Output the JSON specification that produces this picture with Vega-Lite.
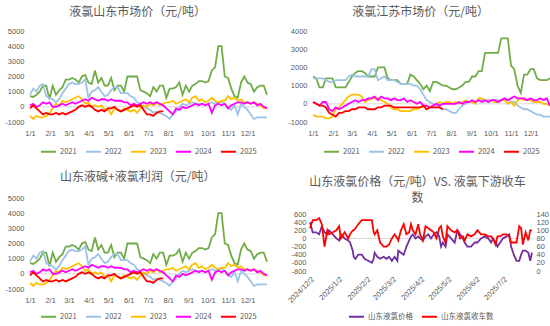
{
  "$schema": "https://vega.github.io/schema/vega-lite/v6.json",
  "background": "white",
  "padding": {"left": 4, "top": 6, "right": 3, "bottom": 2},
  "config": {
    "font": "Noto Sans CJK SC",
    "view": {"stroke": null},
    "title": {"fontSize": 12, "fontWeight": "normal", "color": "#595959", "anchor": "middle", "frame": "bounds", "offset": 8},
    "axis": {"labelFont": "Liberation Sans", "labelFontSize": 7.5, "labelColor": "#595959", "domain": false, "ticks": false, "grid": false, "title": null},
    "legend": {"labelFont": "Noto Sans CJK SC", "labelFontSize": 7.5, "labelColor": "#595959", "symbolType": "stroke", "symbolStrokeWidth": 2, "symbolSize": 225, "orient": "bottom", "direction": "horizontal", "title": null, "columnPadding": 5, "labelOffset": 3, "offset": 6,
               "layout": {"bottom": {"anchor": "middle"}}}
  },
  "resolve": {"scale": {"color": "independent"}, "legend": {"color": "independent"}},
  "datasets": {
    "sd": [
      {"d":"2000-01-01","2021":700,"2022":800,"2023":-600,"2024":100,"2025":-100},
      {"d":"2000-01-06","2021":650,"2022":1200,"2023":-800,"2024":200,"2025":100},
      {"d":"2000-01-11","2021":800,"2022":1000,"2023":-600,"2024":0,"2025":-100},
      {"d":"2000-01-16","2021":1000,"2022":1400,"2023":-700,"2024":100,"2025":-300},
      {"d":"2000-01-21","2021":1400,"2022":1500,"2023":-700,"2024":300,"2025":-500},
      {"d":"2000-01-26","2021":1400,"2022":700,"2023":-600,"2024":200,"2025":-400},
      {"d":"2000-01-31","2021":500,"2022":600,"2023":-400,"2024":300,"2025":-500},
      {"d":"2000-02-05","2021":1400,"2022":500,"2023":-100,"2024":0,"2025":-500},
      {"d":"2000-02-10","2021":800,"2022":300,"2023":200,"2024":0,"2025":-400},
      {"d":"2000-02-15","2021":1100,"2022":500,"2023":100,"2024":100,"2025":-500},
      {"d":"2000-02-20","2021":1300,"2022":900,"2023":400,"2024":200,"2025":-400},
      {"d":"2000-02-25","2021":1800,"2022":1200,"2023":300,"2024":100,"2025":-500},
      {"d":"2000-03-01","2021":1800,"2022":1500,"2023":400,"2024":200,"2025":-400},
      {"d":"2000-03-06","2021":1900,"2022":1600,"2023":500,"2024":300,"2025":-300},
      {"d":"2000-03-11","2021":1800,"2022":1500,"2023":600,"2024":200,"2025":-200},
      {"d":"2000-03-16","2021":1600,"2022":1500,"2023":700,"2024":300,"2025":0},
      {"d":"2000-03-21","2021":2000,"2022":1600,"2023":500,"2024":400,"2025":100},
      {"d":"2000-03-26","2021":2100,"2022":1800,"2023":200,"2024":500,"2025":0},
      {"d":"2000-03-31","2021":1600,"2022":600,"2023":300,"2024":400,"2025":100},
      {"d":"2000-04-05","2021":1500,"2022":1000,"2023":0,"2024":600,"2025":0},
      {"d":"2000-04-10","2021":2400,"2022":1100,"2023":100,"2024":500,"2025":-200},
      {"d":"2000-04-15","2021":1600,"2022":1300,"2023":0,"2024":400,"2025":-300},
      {"d":"2000-04-20","2021":1900,"2022":1000,"2023":100,"2024":500,"2025":-200},
      {"d":"2000-04-25","2021":1400,"2022":700,"2023":-200,"2024":500,"2025":-300},
      {"d":"2000-04-30","2021":1400,"2022":800,"2023":-100,"2024":400,"2025":-100},
      {"d":"2000-05-05","2021":1900,"2022":1100,"2023":-500,"2024":500,"2025":-100},
      {"d":"2000-05-10","2021":1100,"2022":1300,"2023":-100,"2024":400,"2025":0},
      {"d":"2000-05-15","2021":1400,"2022":1300,"2023":-200,"2024":400,"2025":-200},
      {"d":"2000-05-20","2021":1400,"2022":900,"2023":-300,"2024":400,"2025":-300},
      {"d":"2000-05-25","2021":1000,"2022":900,"2023":-100,"2024":300,"2025":-200},
      {"d":"2000-05-30","2021":2000,"2022":900,"2023":-200,"2024":300,"2025":-100},
      {"d":"2000-06-04","2021":2000,"2022":700,"2023":-300,"2024":100,"2025":0},
      {"d":"2000-06-09","2021":2000,"2022":600,"2023":-200,"2024":200,"2025":100},
      {"d":"2000-06-14","2021":2000,"2022":300,"2023":-400,"2024":100,"2025":0},
      {"d":"2000-06-19","2021":1100,"2022":200,"2023":-100,"2024":200,"2025":100},
      {"d":"2000-06-24","2021":1000,"2022":0,"2023":100,"2024":300,"2025":-200},
      {"d":"2000-06-29","2021":900,"2022":-100,"2023":0,"2024":200,"2025":-500},
      {"d":"2000-07-04","2021":700,"2022":-200,"2023":200,"2024":300,"2025":-500},
      {"d":"2000-07-09","2021":1300,"2022":-400,"2023":100,"2024":200,"2025":-600},
      {"d":"2000-07-14","2021":1000,"2022":-300,"2023":300,"2024":300,"2025":-400},
      {"d":"2000-07-19","2021":1400,"2022":-400,"2023":100,"2024":200,"2025":-300},
      {"d":"2000-07-24","2021":1400,"2022":-500,"2023":200,"2024":100,"2025":-300},
      {"d":"2000-07-29","2021":600,"2022":-600,"2023":300,"2024":-100,"2025":null},
      {"d":"2000-08-03","2021":1200,"2022":-800,"2023":300,"2024":-300,"2025":null},
      {"d":"2000-08-08","2021":1200,"2022":-500,"2023":400,"2024":-500,"2025":null},
      {"d":"2000-08-13","2021":1300,"2022":-300,"2023":200,"2024":-100,"2025":null},
      {"d":"2000-08-18","2021":1600,"2022":0,"2023":300,"2024":-200,"2025":null},
      {"d":"2000-08-23","2021":800,"2022":200,"2023":400,"2024":0,"2025":null},
      {"d":"2000-08-28","2021":1400,"2022":100,"2023":500,"2024":-100,"2025":null},
      {"d":"2000-09-02","2021":1000,"2022":200,"2023":300,"2024":0,"2025":null},
      {"d":"2000-09-07","2021":1400,"2022":300,"2023":600,"2024":100,"2025":null},
      {"d":"2000-09-12","2021":1500,"2022":200,"2023":700,"2024":200,"2025":null},
      {"d":"2000-09-17","2021":1700,"2022":200,"2023":400,"2024":100,"2025":null},
      {"d":"2000-09-22","2021":1700,"2022":200,"2023":500,"2024":200,"2025":null},
      {"d":"2000-09-27","2021":1600,"2022":100,"2023":300,"2024":100,"2025":null},
      {"d":"2000-10-02","2021":1700,"2022":200,"2023":400,"2024":200,"2025":null},
      {"d":"2000-10-07","2021":2400,"2022":300,"2023":600,"2024":-400,"2025":null},
      {"d":"2000-10-12","2021":2600,"2022":200,"2023":400,"2024":100,"2025":null},
      {"d":"2000-10-17","2021":4000,"2022":300,"2023":300,"2024":200,"2025":null},
      {"d":"2000-10-22","2021":4000,"2022":300,"2023":400,"2024":100,"2025":null},
      {"d":"2000-10-27","2021":2000,"2022":200,"2023":400,"2024":200,"2025":null},
      {"d":"2000-11-01","2021":1900,"2022":-100,"2023":700,"2024":-100,"2025":null},
      {"d":"2000-11-06","2021":1200,"2022":-200,"2023":500,"2024":100,"2025":null},
      {"d":"2000-11-11","2021":700,"2022":100,"2023":600,"2024":200,"2025":null},
      {"d":"2000-11-16","2021":600,"2022":-500,"2023":400,"2024":300,"2025":null},
      {"d":"2000-11-21","2021":1600,"2022":200,"2023":500,"2024":300,"2025":null},
      {"d":"2000-11-26","2021":2000,"2022":0,"2023":300,"2024":200,"2025":null},
      {"d":"2000-12-01","2021":1600,"2022":-200,"2023":300,"2024":300,"2025":null},
      {"d":"2000-12-06","2021":1500,"2022":-500,"2023":200,"2024":200,"2025":null},
      {"d":"2000-12-11","2021":1000,"2022":-800,"2023":300,"2024":300,"2025":null},
      {"d":"2000-12-16","2021":1300,"2022":-700,"2023":200,"2024":100,"2025":null},
      {"d":"2000-12-21","2021":1400,"2022":-700,"2023":100,"2024":200,"2025":null},
      {"d":"2000-12-26","2021":1400,"2022":-700,"2023":-100,"2024":0,"2025":null},
      {"d":"2000-12-31","2021":800,"2022":-700,"2023":-100,"2024":-100,"2025":null}
    ],
    "js": [
      {"d":"2000-01-01","2021":1500,"2022":1400,"2023":-600,"2024":100,"2025":100},
      {"d":"2000-01-06","2021":1400,"2022":1400,"2023":-700,"2024":0,"2025":0},
      {"d":"2000-01-11","2021":900,"2022":1400,"2023":-700,"2024":-100,"2025":-100},
      {"d":"2000-01-16","2021":900,"2022":1400,"2023":-700,"2024":100,"2025":-100},
      {"d":"2000-01-21","2021":1400,"2022":1300,"2023":-800,"2024":100,"2025":-200},
      {"d":"2000-01-26","2021":1400,"2022":1200,"2023":-800,"2024":-300,"2025":-500},
      {"d":"2000-01-31","2021":1400,"2022":1200,"2023":-700,"2024":-400,"2025":-600},
      {"d":"2000-02-05","2021":900,"2022":1300,"2023":-300,"2024":-200,"2025":-700},
      {"d":"2000-02-10","2021":900,"2022":1300,"2023":-200,"2024":-300,"2025":-500},
      {"d":"2000-02-15","2021":900,"2022":1300,"2023":0,"2024":-200,"2025":-500},
      {"d":"2000-02-20","2021":900,"2022":1300,"2023":200,"2024":-100,"2025":-400},
      {"d":"2000-02-25","2021":1200,"2022":1500,"2023":400,"2024":0,"2025":-400},
      {"d":"2000-03-01","2021":1500,"2022":1600,"2023":500,"2024":100,"2025":-300},
      {"d":"2000-03-06","2021":1700,"2022":1500,"2023":500,"2024":200,"2025":-300},
      {"d":"2000-03-11","2021":1800,"2022":1500,"2023":500,"2024":100,"2025":-200},
      {"d":"2000-03-16","2021":1800,"2022":1500,"2023":400,"2024":200,"2025":-200},
      {"d":"2000-03-21","2021":1700,"2022":1500,"2023":100,"2024":200,"2025":-200},
      {"d":"2000-03-26","2021":1500,"2022":1500,"2023":200,"2024":300,"2025":-300},
      {"d":"2000-03-31","2021":1500,"2022":1900,"2023":300,"2024":300,"2025":-300},
      {"d":"2000-04-05","2021":1500,"2022":1900,"2023":300,"2024":400,"2025":-300},
      {"d":"2000-04-10","2021":2000,"2022":1300,"2023":300,"2024":200,"2025":-200},
      {"d":"2000-04-15","2021":2000,"2022":1400,"2023":200,"2024":400,"2025":-200},
      {"d":"2000-04-20","2021":2000,"2022":1500,"2023":100,"2024":300,"2025":-100},
      {"d":"2000-04-25","2021":1400,"2022":1300,"2023":0,"2024":300,"2025":-100},
      {"d":"2000-04-30","2021":1300,"2022":1300,"2023":-200,"2024":200,"2025":-100},
      {"d":"2000-05-05","2021":1300,"2022":1300,"2023":-300,"2024":300,"2025":-200},
      {"d":"2000-05-10","2021":1300,"2022":1200,"2023":-300,"2024":200,"2025":-200},
      {"d":"2000-05-15","2021":1100,"2022":1100,"2023":-400,"2024":200,"2025":-200},
      {"d":"2000-05-20","2021":1100,"2022":1100,"2023":-400,"2024":300,"2025":-200},
      {"d":"2000-05-25","2021":1100,"2022":1100,"2023":-400,"2024":100,"2025":-200},
      {"d":"2000-05-30","2021":1600,"2022":1100,"2023":-400,"2024":200,"2025":-200},
      {"d":"2000-06-04","2021":1500,"2022":1000,"2023":-300,"2024":100,"2025":-200},
      {"d":"2000-06-09","2021":1300,"2022":1000,"2023":-300,"2024":0,"2025":-200},
      {"d":"2000-06-14","2021":1100,"2022":800,"2023":-200,"2024":100,"2025":-200},
      {"d":"2000-06-19","2021":800,"2022":500,"2023":-200,"2024":-100,"2025":-100},
      {"d":"2000-06-24","2021":1000,"2022":200,"2023":-100,"2024":-100,"2025":-300},
      {"d":"2000-06-29","2021":700,"2022":100,"2023":-200,"2024":-200,"2025":-200},
      {"d":"2000-07-04","2021":1200,"2022":0,"2023":-100,"2024":-100,"2025":-200},
      {"d":"2000-07-09","2021":1200,"2022":-100,"2023":0,"2024":0,"2025":-200},
      {"d":"2000-07-14","2021":1100,"2022":-200,"2023":100,"2024":-100,"2025":-200},
      {"d":"2000-07-19","2021":1000,"2022":-300,"2023":0,"2024":0,"2025":-300},
      {"d":"2000-07-24","2021":1000,"2022":-300,"2023":100,"2024":0,"2025":null},
      {"d":"2000-07-29","2021":900,"2022":-400,"2023":100,"2024":0,"2025":null},
      {"d":"2000-08-03","2021":800,"2022":-500,"2023":0,"2024":0,"2025":null},
      {"d":"2000-08-08","2021":800,"2022":-500,"2023":100,"2024":0,"2025":null},
      {"d":"2000-08-13","2021":900,"2022":-300,"2023":0,"2024":100,"2025":null},
      {"d":"2000-08-18","2021":1000,"2022":-100,"2023":100,"2024":0,"2025":null},
      {"d":"2000-08-23","2021":1200,"2022":0,"2023":200,"2024":100,"2025":null},
      {"d":"2000-08-28","2021":1200,"2022":100,"2023":100,"2024":100,"2025":null},
      {"d":"2000-09-02","2021":1500,"2022":100,"2023":100,"2024":200,"2025":null},
      {"d":"2000-09-07","2021":1500,"2022":100,"2023":0,"2024":100,"2025":null},
      {"d":"2000-09-12","2021":1800,"2022":200,"2023":300,"2024":200,"2025":null},
      {"d":"2000-09-17","2021":1800,"2022":200,"2023":300,"2024":100,"2025":null},
      {"d":"2000-09-22","2021":2800,"2022":200,"2023":200,"2024":200,"2025":null},
      {"d":"2000-09-27","2021":2800,"2022":200,"2023":100,"2024":100,"2025":null},
      {"d":"2000-10-02","2021":2800,"2022":200,"2023":200,"2024":200,"2025":null},
      {"d":"2000-10-07","2021":2800,"2022":200,"2023":100,"2024":200,"2025":null},
      {"d":"2000-10-12","2021":2800,"2022":200,"2023":100,"2024":100,"2025":null},
      {"d":"2000-10-17","2021":3600,"2022":200,"2023":200,"2024":200,"2025":null},
      {"d":"2000-10-22","2021":3600,"2022":200,"2023":200,"2024":300,"2025":null},
      {"d":"2000-10-27","2021":3600,"2022":200,"2023":0,"2024":200,"2025":null},
      {"d":"2000-11-01","2021":2100,"2022":100,"2023":100,"2024":300,"2025":null},
      {"d":"2000-11-06","2021":1900,"2022":100,"2023":-100,"2024":400,"2025":null},
      {"d":"2000-11-11","2021":1000,"2022":-100,"2023":200,"2024":300,"2025":null},
      {"d":"2000-11-16","2021":600,"2022":-200,"2023":300,"2024":300,"2025":null},
      {"d":"2000-11-21","2021":1600,"2022":-300,"2023":200,"2024":300,"2025":null},
      {"d":"2000-11-26","2021":1600,"2022":-300,"2023":200,"2024":200,"2025":null},
      {"d":"2000-12-01","2021":1900,"2022":-400,"2023":200,"2024":300,"2025":null},
      {"d":"2000-12-06","2021":1900,"2022":-500,"2023":100,"2024":200,"2025":null},
      {"d":"2000-12-11","2021":1400,"2022":-600,"2023":100,"2024":200,"2025":null},
      {"d":"2000-12-16","2021":1300,"2022":-600,"2023":100,"2024":300,"2025":null},
      {"d":"2000-12-21","2021":1300,"2022":-700,"2023":0,"2024":200,"2025":null},
      {"d":"2000-12-26","2021":1300,"2022":-700,"2023":0,"2024":300,"2025":null},
      {"d":"2000-12-31","2021":1400,"2022":-700,"2023":-100,"2024":-100,"2025":null}
    ],
    "p4": [
      {"d":"2024-12-02","p":400,"c":105},
      {"d":"2024-12-05","p":150,"c":125},
      {"d":"2024-12-09","p":150,"c":125},
      {"d":"2024-12-12","p":100,"c":130},
      {"d":"2024-12-15","p":300,"c":115},
      {"d":"2024-12-18","p":150,"c":60},
      {"d":"2024-12-21","p":100,"c":100},
      {"d":"2024-12-23","p":200,"c":90},
      {"d":"2024-12-27","p":100,"c":95},
      {"d":"2024-12-31","p":0,"c":100},
      {"d":"2025-01-03","p":-50,"c":110},
      {"d":"2025-01-05","p":100,"c":80},
      {"d":"2025-01-09","p":0,"c":95},
      {"d":"2025-01-13","p":-50,"c":80},
      {"d":"2025-01-15","p":-100,"c":90},
      {"d":"2025-01-18","p":-300,"c":100},
      {"d":"2025-01-19","p":-450,"c":100},
      {"d":"2025-01-21","p":-500,"c":105},
      {"d":"2025-01-24","p":-400,"c":115},
      {"d":"2025-01-28","p":-400,"c":125},
      {"d":"2025-01-31","p":-500,"c":125},
      {"d":"2025-02-04","p":-550,"c":125},
      {"d":"2025-02-08","p":-600,"c":125},
      {"d":"2025-02-10","p":-500,"c":95},
      {"d":"2025-02-11","p":-350,"c":90},
      {"d":"2025-02-14","p":-450,"c":100},
      {"d":"2025-02-17","p":-500,"c":70},
      {"d":"2025-02-21","p":-450,"c":60},
      {"d":"2025-02-24","p":-500,"c":60},
      {"d":"2025-02-27","p":-450,"c":65},
      {"d":"2025-03-02","p":-550,"c":80},
      {"d":"2025-03-05","p":-450,"c":90},
      {"d":"2025-03-08","p":-550,"c":80},
      {"d":"2025-03-09","p":-300,"c":75},
      {"d":"2025-03-12","p":-350,"c":100},
      {"d":"2025-03-15","p":-400,"c":115},
      {"d":"2025-03-18","p":-200,"c":90},
      {"d":"2025-03-21","p":-50,"c":95},
      {"d":"2025-03-23","p":50,"c":115},
      {"d":"2025-03-25","p":100,"c":100},
      {"d":"2025-03-28","p":0,"c":90},
      {"d":"2025-03-31","p":50,"c":115},
      {"d":"2025-04-02","p":0,"c":90},
      {"d":"2025-04-05","p":-50,"c":75},
      {"d":"2025-04-08","p":50,"c":110},
      {"d":"2025-04-11","p":100,"c":105},
      {"d":"2025-04-14","p":0,"c":100},
      {"d":"2025-04-17","p":100,"c":95},
      {"d":"2025-04-20","p":150,"c":80},
      {"d":"2025-04-23","p":50,"c":105},
      {"d":"2025-04-25","p":-200,"c":110},
      {"d":"2025-04-27","p":-100,"c":85},
      {"d":"2025-04-30","p":-200,"c":70},
      {"d":"2025-05-02","p":100,"c":110},
      {"d":"2025-05-06","p":0,"c":100},
      {"d":"2025-05-10","p":-100,"c":95},
      {"d":"2025-05-13","p":200,"c":100},
      {"d":"2025-05-16","p":100,"c":80},
      {"d":"2025-05-19","p":0,"c":85},
      {"d":"2025-05-21","p":-100,"c":75},
      {"d":"2025-05-24","p":-200,"c":90},
      {"d":"2025-05-28","p":-200,"c":85},
      {"d":"2025-06-01","p":-100,"c":90},
      {"d":"2025-06-04","p":-100,"c":100},
      {"d":"2025-06-08","p":0,"c":90},
      {"d":"2025-06-12","p":50,"c":90},
      {"d":"2025-06-16","p":0,"c":85},
      {"d":"2025-06-19","p":-100,"c":85},
      {"d":"2025-06-21","p":0,"c":80},
      {"d":"2025-06-24","p":-100,"c":65},
      {"d":"2025-06-26","p":-200,"c":85},
      {"d":"2025-06-29","p":-100,"c":85},
      {"d":"2025-07-02","p":0,"c":90},
      {"d":"2025-07-06","p":50,"c":90},
      {"d":"2025-07-09","p":100,"c":85},
      {"d":"2025-07-11","p":-200,"c":70},
      {"d":"2025-07-14","p":-400,"c":70},
      {"d":"2025-07-17","p":-550,"c":70},
      {"d":"2025-07-20","p":-550,"c":110},
      {"d":"2025-07-22","p":-400,"c":105},
      {"d":"2025-07-24","p":-300,"c":65},
      {"d":"2025-07-27","p":-300,"c":95},
      {"d":"2025-07-30","p":-350,"c":75},
      {"d":"2025-08-01","p":-550,"c":100},
      {"d":"2025-08-03","p":-350,"c":100}
    ]
  },
  "vconcat": [
    {
      "spacing": 16,
      "resolve": {"scale": {"color": "independent"}, "legend": {"color": "independent"}},
      "hconcat": [
        {
          "title": "液氯山东市场价（元/吨）",
          "width": 237, "height": 91,
          "layer": [
            {"data": {"values": [{}]}, "mark": {"type": "rule", "color": "#d9d9d9", "strokeWidth": 1},
             "encoding": {"y": {"datum": 0, "type": "quantitative", "scale": {"domain": [-1000, 5000], "nice": false},
                                "axis": {"values": [-1000,0,1000,2000,3000,4000,5000], "labelExpr": "'' + datum.value", "labelPadding": 6}}}},
            {"data": {"name": "sd"}, "transform": [{"fold": ["2021","2022","2023","2024","2025"], "as": ["year","v"]}],
             "mark": {"type": "line", "strokeWidth": 1.8},
             "encoding": {
               "x": {"field": "d", "type": "temporal", "scale": {"type": "utc", "domain": [{"year":2000,"month":1,"date":1,"utc":true},{"year":2000,"month":12,"date":31,"utc":true}]},
                     "axis": {"format": "%-m/%-d", "tickCount": {"interval": "month", "step": 1}, "labelFlush": false, "labelOverlap": false, "labelPadding": 7}},
               "y": {"field": "v", "type": "quantitative", "scale": {"domain": [-1000, 5000], "nice": false},
                     "axis": {"values": [-1000,0,1000,2000,3000,4000,5000], "labelExpr": "'' + datum.value", "labelPadding": 6}},
               "color": {"field": "year", "type": "nominal", "scale": {"domain": ["2021","2022","2023","2024","2025"], "range": ["#70AD47","#9DC3E6","#FFC000","#FF00FF","#FF0000"]}}
             }}
          ]
        },
        {
          "title": "液氯江苏市场价（元/吨）",
          "width": 237, "height": 91,
          "layer": [
            {"data": {"values": [{}]}, "mark": {"type": "rule", "color": "#d9d9d9", "strokeWidth": 1},
             "encoding": {"y": {"datum": 0, "type": "quantitative", "scale": {"domain": [-1000, 4000], "nice": false},
                                "axis": {"values": [-1000,0,1000,2000,3000,4000], "labelExpr": "'' + datum.value", "labelPadding": 6}}}},
            {"data": {"name": "js"}, "transform": [{"fold": ["2021","2022","2023","2024","2025"], "as": ["year","v"]}],
             "mark": {"type": "line", "strokeWidth": 1.8},
             "encoding": {
               "x": {"field": "d", "type": "temporal", "scale": {"type": "utc", "domain": [{"year":2000,"month":1,"date":1,"utc":true},{"year":2000,"month":12,"date":31,"utc":true}]},
                     "axis": {"format": "%-m/%-d", "tickCount": {"interval": "month", "step": 1}, "labelFlush": false, "labelOverlap": false, "labelPadding": 7}},
               "y": {"field": "v", "type": "quantitative", "scale": {"domain": [-1000, 4000], "nice": false},
                     "axis": {"values": [-1000,0,1000,2000,3000,4000], "labelExpr": "'' + datum.value", "labelPadding": 6}},
               "color": {"field": "year", "type": "nominal", "scale": {"domain": ["2021","2022","2023","2024","2025"], "range": ["#70AD47","#9DC3E6","#FFC000","#FF00FF","#FF0000"]}}
             }}
          ]
        }
      ]
    },
    {
      "spacing": 15,
      "resolve": {"scale": {"color": "independent"}, "legend": {"color": "independent"}},
      "hconcat": [
        {
          "title": {"text": "山东液碱+液氯利润（元/吨）", "offset": 10},
          "width": 237, "height": 91,
          "layer": [
            {"data": {"values": [{}]}, "mark": {"type": "rule", "color": "#d9d9d9", "strokeWidth": 1},
             "encoding": {"y": {"datum": 0, "type": "quantitative", "scale": {"domain": [-1000, 5000], "nice": false},
                                "axis": {"values": [-1000,0,1000,2000,3000,4000,5000], "labelExpr": "'' + datum.value", "labelPadding": 6}}}},
            {"data": {"name": "sd"}, "transform": [{"fold": ["2021","2022","2023","2024","2025"], "as": ["year","v"]}],
             "mark": {"type": "line", "strokeWidth": 1.8},
             "encoding": {
               "x": {"field": "d", "type": "temporal", "scale": {"type": "utc", "domain": [{"year":2000,"month":1,"date":1,"utc":true},{"year":2000,"month":12,"date":31,"utc":true}]},
                     "axis": {"format": "%-m/%-d", "tickCount": {"interval": "month", "step": 1}, "labelFlush": false, "labelOverlap": false, "labelPadding": 7}},
               "y": {"field": "v", "type": "quantitative", "scale": {"domain": [-1000, 5000], "nice": false},
                     "axis": {"values": [-1000,0,1000,2000,3000,4000,5000], "labelExpr": "'' + datum.value", "labelPadding": 6}},
               "color": {"field": "year", "type": "nominal", "scale": {"domain": ["2021","2022","2023","2024","2025"], "range": ["#70AD47","#9DC3E6","#FFC000","#FF00FF","#FF0000"]},
                         "legend": {"offset": 4}}
             }}
          ]
        },
        {
          "title": {"text": ["山东液氯价格（元/吨）VS. 液氯下游收车", "数"], "lineHeight": 16, "offset": -7},
          "width": 222, "height": 73,
          "layer": [
            {"layer": [
              {"data": {"values": [{}]}, "mark": {"type": "rule", "color": "#d9d9d9", "strokeWidth": 1},
               "encoding": {"y": {"datum": 0, "type": "quantitative", "scale": {"domain": [-800, 993], "nice": false, "zero": false},
                                  "axis": {"orient": "left", "values": [-800,-600,-400,-200,0,200,400,600], "labelExpr": "'' + datum.value", "labelPadding": 4}}}},
              {"data": {"name": "p4"}, "mark": {"type": "line", "strokeWidth": 1.8},
               "encoding": {
                 "x": {"field": "d", "type": "temporal", "scale": {"type": "utc", "domain": [{"year":2024,"month":12,"date":2,"utc":true},{"year":2025,"month":8,"date":3,"utc":true}]},
                       "axis": {"format": "%Y/%-m/%-d", "labelAngle": -45, "labelFlush": false, "labelOverlap": false, "labelPadding": 4,
                                "values": [{"year":2024,"month":12,"date":2,"utc":true},{"year":2025,"month":1,"date":2,"utc":true},{"year":2025,"month":2,"date":2,"utc":true},{"year":2025,"month":3,"date":2,"utc":true},{"year":2025,"month":4,"date":2,"utc":true},{"year":2025,"month":5,"date":2,"utc":true},{"year":2025,"month":6,"date":2,"utc":true},{"year":2025,"month":7,"date":2,"utc":true}]}},
                 "y": {"field": "p", "type": "quantitative", "scale": {"domain": [-800, 993], "nice": false, "zero": false},
                       "axis": {"orient": "left", "values": [-800,-600,-400,-200,0,200,400,600], "labelExpr": "'' + datum.value", "labelPadding": 4}},
                 "color": {"datum": "山东液氯价格", "type": "nominal", "scale": {"domain": ["山东液氯价格","山东液氯收车数"], "range": ["#7030A0","#FF0000"]},
                           "legend": {"offset": 4}}
               }}
            ]},
            {"data": {"name": "p4"}, "mark": {"type": "line", "strokeWidth": 1.8},
             "encoding": {
               "x": {"field": "d", "type": "temporal", "scale": {"type": "utc", "domain": [{"year":2024,"month":12,"date":2,"utc":true},{"year":2025,"month":8,"date":3,"utc":true}]},
                     "axis": {"format": "%Y/%-m/%-d", "labelAngle": -45, "labelFlush": false, "labelOverlap": false, "labelPadding": 4,
                              "values": [{"year":2024,"month":12,"date":2,"utc":true},{"year":2025,"month":1,"date":2,"utc":true},{"year":2025,"month":2,"date":2,"utc":true},{"year":2025,"month":3,"date":2,"utc":true},{"year":2025,"month":4,"date":2,"utc":true},{"year":2025,"month":5,"date":2,"utc":true},{"year":2025,"month":6,"date":2,"utc":true},{"year":2025,"month":7,"date":2,"utc":true}]}},
               "y": {"field": "c", "type": "quantitative", "scale": {"domain": [0, 179.3], "nice": false},
                     "axis": {"orient": "right", "values": [0,20,40,60,80,100,120,140], "labelPadding": 4}},
               "color": {"datum": "山东液氯收车数", "type": "nominal", "scale": {"domain": ["山东液氯价格","山东液氯收车数"], "range": ["#7030A0","#FF0000"]},
                         "legend": {"offset": 4}}
             }}
          ],
          "resolve": {"scale": {"y": "independent"}}
        }
      ]
    }
  ],
  "spacing": 15
}
